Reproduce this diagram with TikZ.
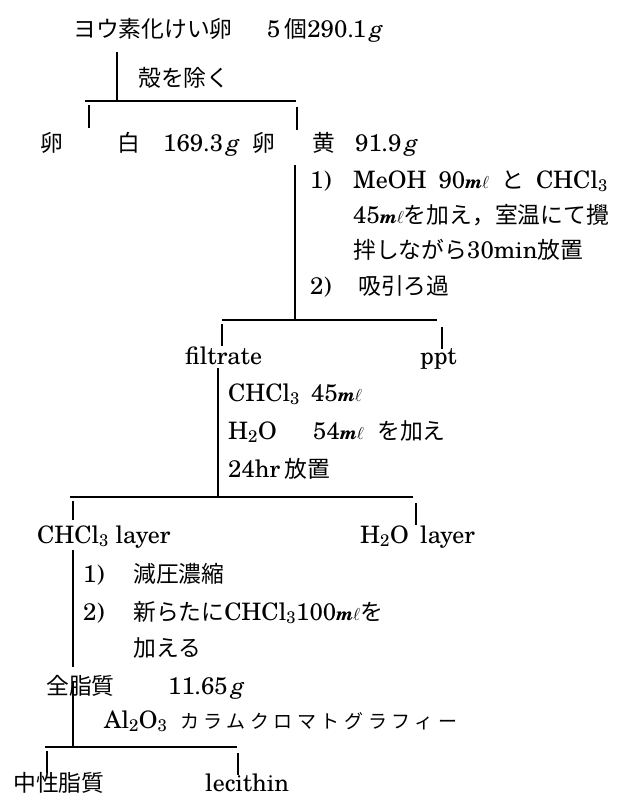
\documentclass[tikz,border=0pt]{standalone}
\usepackage{fontspec}
\setmainfont{TeX Gyre Schola}
\newfontfamily\jpfont[Scale=0.95]{Noto Sans CJK JP}
\newcommand{\jp}[1]{{\jpfont #1}}
\newcommand{\mlu}{{\fontsize{18}{18}\selectfont\textit{\textbf{m}}$\ell$}}
\newcommand{\gu}{\textit{g}}
\newcommand{\sub}[1]{\textsubscript{#1}}
\begin{document}
\begin{tikzpicture}[x=1pt,y=-1pt,
  every node/.style={inner sep=0pt,anchor=base west,font=\fontsize{24}{28}\selectfont},
  ln/.style={line width=1.2pt,line cap=butt}]
\useasboundingbox[fill=white] (0,0) rectangle (629,798);
% ---------- texts ----------
\node (t1) at (73,37) {\jp{ヨウ素化けい卵}};
\node (t2) at (267,37) {5\,\jp{個}290.1\,\gu};
\node (s1) at (138,86) {\jp{殻を除く}};
\node (w1) at (40,151) {\jp{卵}};
\node (w2) at (117,151) {\jp{白}};
\node (w3) at (163,151) {169.3\,\gu};
\node (y1) at (252,151) {\jp{卵}};
\node (y2) at (312,151) {\jp{黄}};
\node (y3) at (355,151) {91.9\,\gu};
\node (n1) at (310,188) {1)};
\node (a1) at (353,188) {MeOH\enspace 90\mlu\enspace\jp{と}\enspace CHCl\sub{3}};
\node (a2) at (353,223) {45\mlu\jp{を加え，室温にて攪}};
\node (a3) at (353,258) {\jp{拌しながら}30min\jp{放置}};
\node (n2) at (310,294) {2)};
\node (a4) at (358,294) {\jp{吸引ろ過}};
\node (f1) at (185,364) {filtrate};
\node (p1) at (420,364) {ppt};
\node (b1) at (228,401) {CHCl\sub{3}};
\node (b1m) at (311,401) {45\mlu};
\node (b2) at (228,439) {H\sub{2}O};
\node (b2m) at (313,439) {54\mlu};
\node (b2j) at (377,439) {\jp{を加え}};
\node (b3) at (228,477) {24hr};
\node (b3j) at (284,477) {\jp{放置}};
\node (c1) at (37,543) {CHCl\sub{3}\ layer};
\node (c2) at (360,543) {H\sub{2}O};
\node (c2l) at (420,543) {layer};
\node (m1) at (83,582) {1)};
\node (m1j) at (133,582) {\jp{減圧濃縮}};
\node (m2) at (83,620) {2)};
\node (m2j) at (133,620) {\jp{新らたに}CHCl\sub{3}100\mlu\jp{を}};
\node (m3) at (133,656) {\jp{加える}};
\node (z1) at (46,694) {\jp{全脂質}};
\node (z2) at (168,694) {11.65\,\gu};
\node (al) at (104,728) {Al\sub{2}O\sub{3}};
\node (alj) at (180,728) {\fontsize{20}{20}\jpfont\addfontfeature{LetterSpace=24}カラムクロマトグラフィー};
\node (e1) at (13,791) {\jp{中性脂質}};
\node (e2) at (205,791) {lecithin};
% ---------- junction coordinates ----------
\coordinate (v1a) at (117,52);  \coordinate (v1b) at (117,101);
\coordinate (h1a) at (85,101);  \coordinate (h1b) at (296,101);
\coordinate (d1a) at (89,105);  \coordinate (d1ae) at (89,128);
\coordinate (d1b) at (297,107); \coordinate (d1be) at (297,130);
\coordinate (v2a) at (295,165); \coordinate (v2b) at (295,320);
\coordinate (h2a) at (222,320); \coordinate (h2b) at (437,320);
\coordinate (d2a) at (222,324); \coordinate (d2ae) at (222,346);
\coordinate (d2b) at (442,327); \coordinate (d2be) at (442,349);
\coordinate (v3a) at (218,368); \coordinate (v3b) at (218,497);
\coordinate (h3a) at (70,497);  \coordinate (h3b) at (413,497);
\coordinate (d3a) at (73,501);  \coordinate (d3ae) at (73,520);
\coordinate (d3b) at (416,503); \coordinate (d3be) at (416,525);
\coordinate (v4a) at (73,550);  \coordinate (v4b) at (73,667);
\coordinate (v4c) at (73,682);  \coordinate (v4d) at (73,747);
\coordinate (h4a) at (45,747);  \coordinate (h4b) at (237,747);
\coordinate (d4a) at (47,751);  \coordinate (d4ae) at (47,773);
\coordinate (d4b) at (238,753); \coordinate (d4be) at (238,775);
% ---------- lines ----------
\draw[ln] (v1a) -- (v1b);
\draw[ln] (h1a) -- (h1b);
\draw[ln] (d1a) -- (d1ae);
\draw[ln] (d1b) -- (d1be);
\draw[ln] (v2a) -- (v2b);
\draw[ln] (h2a) -- (h2b);
\draw[ln] (d2a) -- (d2ae);
\draw[ln] (d2b) -- (d2be);
\draw[ln] (v3a) -- (v3b);
\draw[ln] (h3a) -- (h3b);
\draw[ln] (d3a) -- (d3ae);
\draw[ln] (d3b) -- (d3be);
\draw[ln] (v4a) -- (v4b);
\draw[ln] (v4c) -- (v4d);
\draw[ln] (h4a) -- (h4b);
\draw[ln] (d4a) -- (d4ae);
\draw[ln] (d4b) -- (d4be);
\end{tikzpicture}
\end{document}
